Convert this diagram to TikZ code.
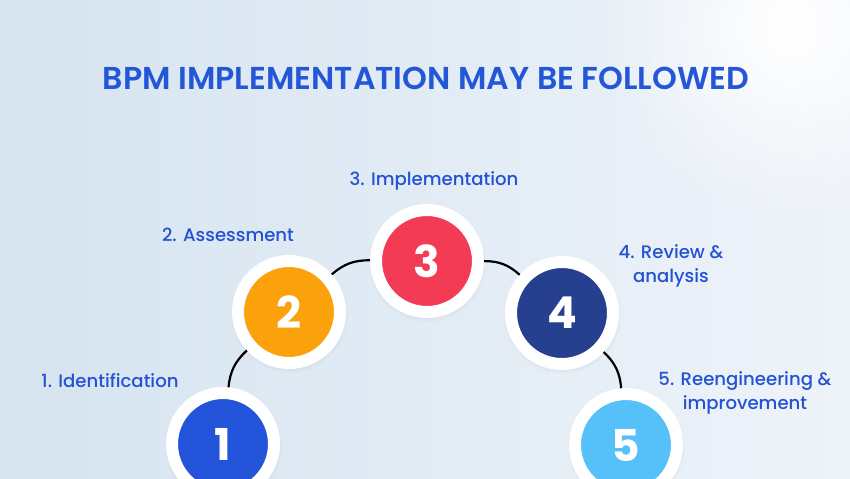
\documentclass[tikz,border=0pt]{standalone}
\usepackage{fontspec}
\setmainfont{Poppins}
\newfontfamily\labelfont{Poppins Medium}
\newfontfamily\titlefont{Poppins SemiBold}
\usetikzlibrary{shadows,fadings}

\definecolor{titleblue}{HTML}{2457D8}
\definecolor{labelblue}{HTML}{2352D4}
\definecolor{bgleft}{HTML}{D6E4F0}
\definecolor{bgright}{HTML}{EEF3F9}
\definecolor{stepone}{HTML}{2353D8}
\definecolor{steptwo}{HTML}{FAA10B}
\definecolor{stepthree}{HTML}{F43B56}
\definecolor{stepfour}{HTML}{263F8E}
\definecolor{stepfive}{HTML}{55C1F8}

\tikzfading[name=glowfade, inner color=transparent!0, outer color=transparent!100]

\begin{document}
\begin{tikzpicture}[x=0.02cm,y=0.02cm]

      \tikzset{stepring/.style={circle, draw=white, line width=0.24cm, minimum size=2.04cm, inner sep=0pt,
                 text=white, font=\fontsize{25}{25}\selectfont\bfseries,
                 circular drop shadow={shadow xshift=0pt, shadow yshift=-1pt, shadow scale=1.16, opacity=0.10, fill=black!70}},
               steplabel/.style={text=labelblue, align=center, font=\labelfont\fontsize{10.3}{13.6}\selectfont},
               arcline/.style={line width=1.25pt}}
%% Background
        \useasboundingbox (0,0) rectangle (850,478);
        \shade[left color=bgleft, right color=bgright] (0,0) rectangle (850,478);
        \fill[white, path fading=glowfade] (790,450) circle (190);
%% Title
        \node[text=titleblue, font=\titlefont\fontsize{18}{19}\selectfont] (title) at (426,400) {BPM IMPLEMENTATION MAY BE FOLLOWED};
%% Steps
      	\node[stepring, fill=stepone] (s1) at (223,34) {1};
      	\node[stepring, fill=steptwo] (s2) at (289,166) {2};
      	\node[stepring, fill=stepthree] (s3) at (427,217) {3};
      	\node[stepring, fill=stepfour] (s4) at (562,165) {4};
      	\node[stepring, fill=stepfive] (s5) at (626,33) {5};
%% Labels
      	\node[steplabel] (l1) at (110,97) {1. Identification};
      	\node[steplabel] (l2) at (228,243) {2. Assessment};
      	\node[steplabel] (l3) at (434,297) {3. Implementation};
      	\node[steplabel] (l4) at (671,212) {4. Review \&\\analysis};
      	\node[steplabel] (l5) at (745,85) {5. Reengineering \&\\improvement};
%Edges
		\draw[arcline] (s1) to[bend left=21] (s2);
		\draw[arcline] (s2) to[bend left=21] (s3);
		\draw[arcline] (s3) to[bend left=21] (s4);
		\draw[arcline] (s4) to[bend left=21] (s5);
	\end{tikzpicture}
\end{document}
